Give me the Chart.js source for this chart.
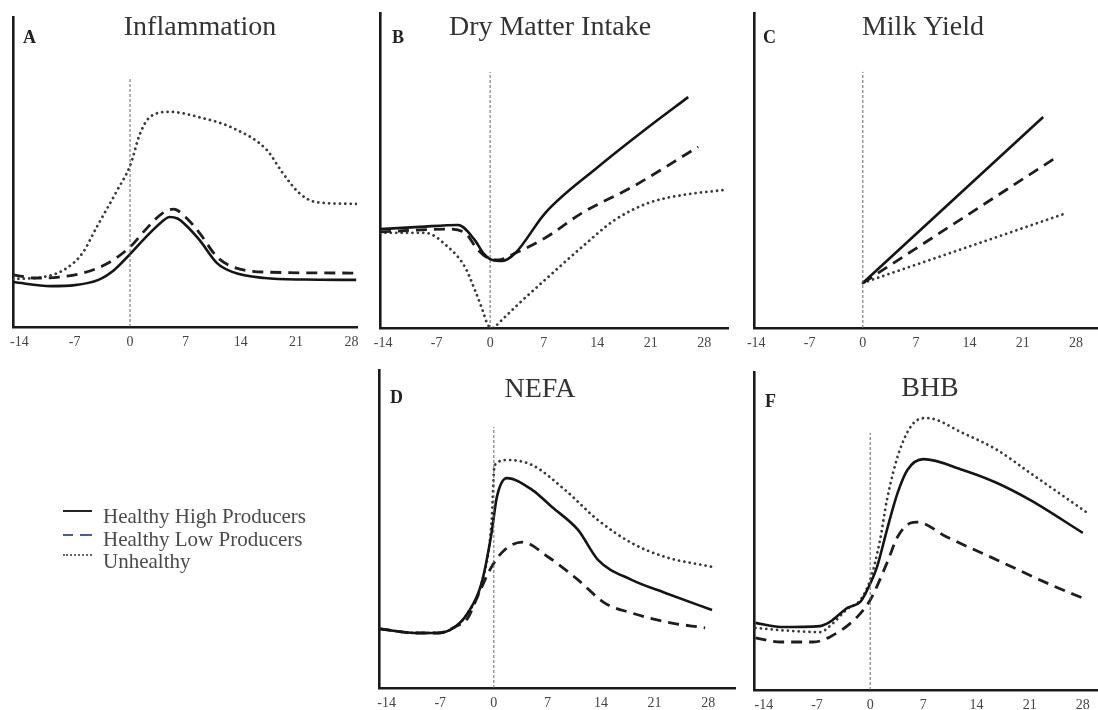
<!DOCTYPE html>
<html><head><meta charset="utf-8">
<script src="https://cdn.jsdelivr.net/npm/chart.js@4.4.1/dist/chart.umd.min.js"></script>
<style>
html,body{margin:0;padding:0;background:#fff;width:1098px;height:710px;overflow:hidden;}
canvas{position:absolute;left:0;top:0;}
.lg{position:absolute;left:103px;font-family:"Liberation Serif",serif;font-size:21px;line-height:22px;color:#4a4a4a;white-space:nowrap;}
.sw{position:absolute;height:0;}
</style></head><body>
<canvas id="cA" width="1098" height="710"></canvas>
<canvas id="cB" width="1098" height="710"></canvas>
<canvas id="cC" width="1098" height="710"></canvas>
<canvas id="cD" width="1098" height="710"></canvas>
<canvas id="cF" width="1098" height="710"></canvas>
<div class="sw" style="left:63px;top:510px;width:29px;border-top:2.5px solid #222;"></div>
<div class="sw" style="left:63px;top:534px;width:10px;border-top:2.5px solid #44609a;"></div>
<div class="sw" style="left:80px;top:534px;width:12px;border-top:2.5px solid #44609a;"></div>
<div class="sw" style="left:63px;top:554px;width:29px;border-top:2px dotted #666;"></div>
<div class="lg" id="lg0" style="top:505px;"></div>
<div class="lg" id="lg1" style="top:528px;"></div>
<div class="lg" id="lg2" style="top:550px;"></div>
<script>
// ---- labels ----
const dayTicks = [-14, -7, 0, 7, 14, 21, 28];
const seriesNames = ['Healthy High Producers', 'Healthy Low Producers', 'Unhealthy'];
const panelTitles = ['Inflammation', 'Dry Matter Intake', 'Milk Yield', 'NEFA', 'BHB'];
const panelLetters = ['A', 'B', 'C', 'D', 'F'];

// ---- A: Inflammation ----
const highDaysA = [-14.8,-10,-7,-4,-2,0,2,4,5,6,7,8.8,11,13,17,22,28.6];
const highA     = [14.5,13.2,13.5,15.2,18.4,23.5,29,33.9,35.5,35,33,28,20.6,17.7,15.8,15.3,15.2];
const lowDaysA  = [-14.8,-12,-9,-6,-3,0,2,4,5.5,7,8.8,11,13,17.3,28.6];
const lowA      = [16.8,15.8,16.1,17.4,20.3,25.8,31.5,36.5,38,35.5,30.3,22.6,19.4,17.7,17.4];
const unhDaysA  = [-14.8,-11,-8,-6,-4.2,-1.6,0,1.3,2.5,5,9,13,17.3,19.3,21.4,23.5,28.6];
const unhA      = [15.5,16.1,19,23.9,32.3,44.2,52,62.6,67.7,69.4,67.5,64.2,57.1,49.7,43.2,40.3,39.7];

// ---- B: Dry Matter Intake ----
const highDaysB = [-14.4,-9.2,-4.2,-2.0,-0.9,0.3,1.6,3.3,7.2,14.1,20.7,25.9];
const highB     = [31.4,32.1,32.7,27.9,23.8,21.6,21.3,23.8,36.5,51.1,63.8,73.3];
const lowDaysB  = [-14.4,-5.5,-3.3,-1.6,-0.3,1.0,3.3,7.2,12.0,18.6,27.2];
const lowB      = [30.5,31.4,30.2,24.8,22.2,21.6,23.8,28.6,36.5,44.8,57.5];
const unhDaysB  = [-14.4,-8.5,-5.5,-3.3,-2.0,-1.0,-0.3,0.5,0.9,3.3,7.6,12.0,16.3,20.7,25.1,30.5];
const unhB      = [30.2,30.2,25.7,19.4,12.1,5.7,1.0,0,1.0,6.7,16.2,25.7,34.3,39.7,42.2,43.8];

// ---- C: Milk Yield ----
const highDaysC = [0, 23.7];
const highC     = [14.3, 67.0];
const lowDaysC  = [0, 25.3];
const lowC      = [14.3, 54.0];
const unhDaysC  = [0, 26.8];
const unhC      = [14.3, 36.5];

// ---- D: NEFA ----
const highDaysD = [-14.9,-10.3,-7.3,-5.1,-3.4,-1.6,-0.3,0.4,1.7,5.0,7.6,11.0,13.6,18.0,22.4,28.5];
const highD     = [18.6,17.3,17.3,19.2,23.6,33.0,48.7,60.1,66.0,62.3,56.9,49.7,40.3,34.0,29.9,24.5];
const lowDaysD  = [-14.9,-10.3,-7.3,-5.1,-3.4,-2.5,-0.3,1.4,3.7,7.1,11.0,14.5,18.0,22.4,27.6];
const lowD      = [18.6,17.3,17.3,19.2,22.0,26.7,38.1,43.4,45.9,41.2,34.0,26.7,23.6,20.8,18.9];
const unhDaysD  = [-14.9,-10.3,-7.3,-5.1,-3.4,-1.6,-0.3,0.1,1.8,5.0,9.3,13.6,18.0,22.4,28.5];
const unhD      = [18.6,17.3,17.3,19.2,23.6,33.0,52,70.1,71.7,70.1,62.3,52.8,45.6,41.2,38.1];

// ---- F: BHB ----
const highDaysF = [-15.1,-11.8,-6.6,-5.3,-3.0,-1.3,-0.4,0.9,2.2,3.6,4.9,7.0,12.2,16.7,21.1,28.0];
const highF     = [21.1,19.8,20.1,21.4,25.8,27.7,31.4,38.7,50.3,61.9,69.2,72.6,69.2,65.1,59.7,49.4];
const lowDaysF  = [-15.1,-11.8,-7.5,-5.3,-1.7,0,2.2,3.6,5.3,6.2,10.1,16.7,23.3,28.6];
const lowF      = [16.4,15.1,15.1,16.7,23.0,28.3,39.9,48.1,52.5,52.8,48.1,40.9,33.6,28.3];
const unhDaysF  = [-15.1,-10.5,-6.6,-5.0,-3.0,-1.3,0,1.3,2.2,3.9,6.2,7.5,12.2,16.7,21.1,28.6];
const unhF      = [19.5,18.6,18.2,20.8,25.5,28.3,34.6,47.2,59.7,75.5,84.9,85.5,80.8,75.5,68.2,55.7];

// top of the dashed calving (day 0) reference line in each panel
const zeroLineTops = [80.6, 81.3, 81.3, 82.1, 80.8];

// ---- layout (page pixels) ----
const panelLayout = [
  {id:'cA', left:13,  right:357,  top:17,  bottom:327, xMin:-14.8, xMax:28.7, titleX:200, titleY:35,  letterX:23,  letterY:43},
  {id:'cB', left:380, right:728,  top:13,  bottom:328, xMin:-14.4, xMax:31.1, titleX:550, titleY:35,  letterX:392, letterY:43},
  {id:'cC', left:754, right:1098, top:13,  bottom:328, xMin:-14.3, xMax:30.9, titleX:923, titleY:35,  letterX:763, letterY:43},
  {id:'cD', left:379, right:735,  top:370, bottom:688, xMin:-15.0, xMax:31.5, titleX:540, titleY:397, letterX:390, letterY:403},
  {id:'cF', left:754, right:1098, top:372, bottom:690, xMin:-15.3, xMax:30.0, titleX:930, titleY:396, letterX:765, letterY:407}
];
const panelSeries = [
  [[highDaysA,highA],[lowDaysA,lowA],[unhDaysA,unhA]],
  [[highDaysB,highB],[lowDaysB,lowB],[unhDaysB,unhB]],
  [[highDaysC,highC],[lowDaysC,lowC],[unhDaysC,unhC]],
  [[highDaysD,highD],[lowDaysD,lowD],[unhDaysD,unhD]],
  [[highDaysF,highF],[lowDaysF,lowF],[unhDaysF,unhF]]
];
const lineStyles = [
  {borderColor:'#151515', borderWidth:2.6, borderDash:[], borderCapStyle:'butt'},
  {borderColor:'#1e1e1e', borderWidth:2.8, borderDash:[11,7], borderCapStyle:'butt'},
  {borderColor:'#3a3a3a', borderWidth:2.8, borderDash:[0.01,5.4], borderCapStyle:'round'}
];

seriesNames.forEach((n,i)=>{ document.getElementById('lg'+i).textContent = n; });

const panelText = {
  id:'panelText',
  afterDraw(chart, args, o){
    const ctx = chart.ctx;
    ctx.save();
    ctx.fillStyle = '#333';
    ctx.font = '28px "Liberation Serif"';
    ctx.textAlign = 'center';
    ctx.textBaseline = 'alphabetic';
    ctx.fillText(o.title, o.titleX, o.titleY);
    ctx.fillStyle = '#222';
    ctx.font = 'bold 18px "Liberation Serif"';
    ctx.textAlign = 'left';
    ctx.fillText(o.letter, o.letterX, o.letterY);
    ctx.restore();
  }
};

const pts = (days, vals) => days.map((d,i)=>({x:d, y:vals[i]}));
const axisBorder = {display:true, color:'#1a1a1a', width:2.6};

panelLayout.forEach((L, p) => {
  const datasets = panelSeries[p].map((s, k) => Object.assign({
    label: seriesNames[k],
    data: pts(s[0], s[1]),
    fill:false, pointRadius:0, cubicInterpolationMode:'monotone'
  }, lineStyles[k]));
  datasets.unshift({
    label:'day 0',
    data:[{x:0,y:0},{x:0,y:zeroLineTops[p]}],
    borderColor:'#666', borderWidth:1, borderDash:[3,2], pointRadius:0, fill:false
  });
  new Chart(document.getElementById(L.id), {
    type:'line',
    data:{datasets},
    options:{
      responsive:false, animation:false, devicePixelRatio:1,
      layout:{padding:{left:L.left, right:1098-L.right, top:L.top, bottom:710-30-L.bottom}},
      plugins:{
        legend:{display:false}, tooltip:{enabled:false},
        panelText:{title:panelTitles[p], letter:panelLetters[p], titleX:L.titleX, titleY:L.titleY, letterX:L.letterX, letterY:L.letterY}
      },
      scales:{
        x:{type:'linear', min:L.xMin, max:L.xMax,
           grid:{display:false, drawTicks:false}, border:axisBorder,
           ticks:{padding:7, color:'#444', font:{family:'Liberation Serif', size:14}, callback:v=>String(v)},
           afterBuildTicks:s=>{ s.ticks = dayTicks.map(v=>({value:v})); },
           afterFit:s=>{ s.height = 30; }},
        y:{type:'linear', min:0, max:100,
           grid:{display:false, drawTicks:false}, border:axisBorder,
           ticks:{display:false},
           afterFit:s=>{ s.width = 0; }}
      }
    },
    plugins:[panelText]
  });
});
</script>
</body></html>
